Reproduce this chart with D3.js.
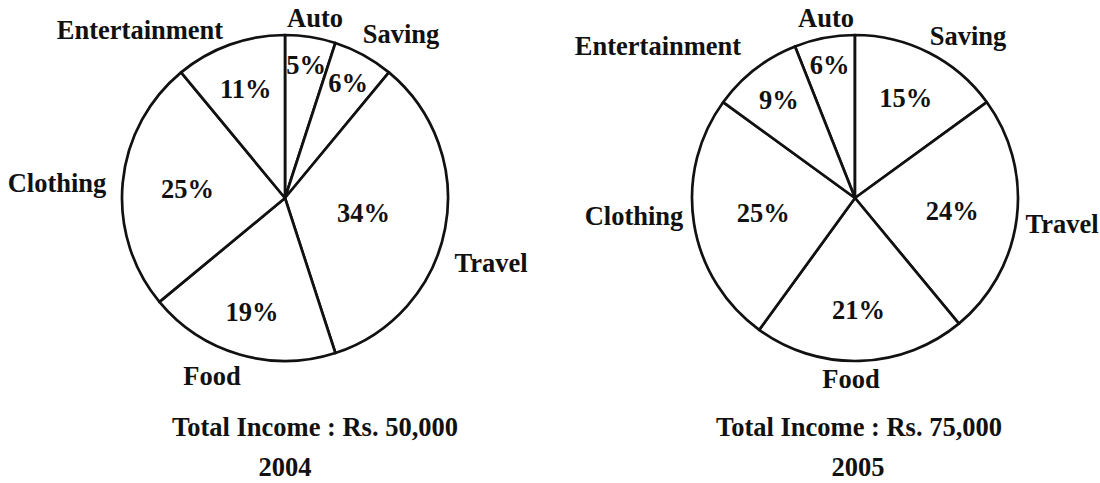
<!DOCTYPE html>
<html>
<head>
<meta charset="utf-8">
<script src="https://cdn.jsdelivr.net/npm/d3@7"></script>
<style>
  body { margin: 0; background: #fff; }
  svg text { font-family: "Liberation Serif", "Times New Roman", serif; font-weight: bold; fill: #111; }
</style>
</head>
<body>
<div id="chart"></div>
<script>
// DATA
const categories = ["Auto", "Saving", "Travel", "Food", "Clothing", "Entertainment"]
const share2004 = [5, 6, 34, 19, 25, 11]
const share2005 = [6, 15, 24, 21, 25, 9]
const incomeLabels = ["Total Income : Rs. 50,000", "Total Income : Rs. 75,000"]
const yearLabels = ["2004", "2005"]

const width = 1100, height = 483
const fontSize = 26.5

// LAYOUT (per pie: centre, label radius for %, outside label offsets)
const layout = [
  { cx: 285, cy: 198, startPct: 0,
    pctRadius: [135, 131, 80, 118, 98, 116],
    nameOffset: [[30, -171], [116, -155], [206, 74], [-73, 187], [-228, -6], [-145, -159]],
    incomeX: 315, yearX: 285 },
  { cx: 855, cy: 198, startPct: -6,
    pctRadius: [136, 112, 98, 112, 93, 124],
    nameOffset: [[-29, -171], [113, -153], [207, 35], [-4, 190], [-221, 27], [-197, -143]],
    incomeX: 859, yearX: 858 }
]

const radius = 163

const svg = d3.select("#chart")
  .append("svg")
  .attr("width", width)
  .attr("height", height)

const arc = d3.arc().innerRadius(0).outerRadius(radius)

const allShares = [share2004, share2005]

allShares.forEach((shares, i) => {
  const L = layout[i]
  const data = categories.map((c, j) => ({ name: c, value: shares[j], idx: j }))

  const pie = d3.pie()
    .sort(null)
    .value(d => d.value)
    .startAngle(L.startPct / 100 * 2 * Math.PI)
    .endAngle(L.startPct / 100 * 2 * Math.PI + 2 * Math.PI)

  const arcs = pie(data)

  const g = svg.append("g")
    .attr("transform", `translate(${L.cx}, ${L.cy})`)

  // DRAW SLICES
  g.selectAll("path")
    .data(arcs)
    .join("path")
    .attr("d", arc)
    .attr("fill", "white")
    .attr("stroke", "#111")
    .attr("stroke-width", 2.7)
    .attr("stroke-linejoin", "round")

  // PERCENT LABELS
  g.selectAll("text.pct")
    .data(arcs)
    .join("text")
    .attr("class", "pct")
    .attr("transform", d => {
      const a = (d.startAngle + d.endAngle) / 2
      const r = L.pctRadius[d.data.idx]
      return `translate(${Math.sin(a) * r}, ${-Math.cos(a) * r})`
    })
    .attr("text-anchor", "middle")
    .attr("dy", "0.35em")
    .attr("font-size", fontSize)
    .text(d => d.data.value + "%")

  // CATEGORY NAMES
  g.selectAll("text.name")
    .data(arcs)
    .join("text")
    .attr("class", "name")
    .attr("x", d => L.nameOffset[d.data.idx][0])
    .attr("y", d => L.nameOffset[d.data.idx][1])
    .attr("text-anchor", "middle")
    .attr("font-size", fontSize)
    .text(d => d.data.name)

  // INCOME + YEAR
  svg.append("text")
    .attr("x", L.incomeX)
    .attr("y", 436)
    .attr("text-anchor", "middle")
    .attr("font-size", fontSize)
    .text(incomeLabels[i])

  svg.append("text")
    .attr("x", L.yearX)
    .attr("y", 476)
    .attr("text-anchor", "middle")
    .attr("font-size", fontSize)
    .text(yearLabels[i])
})
</script>
</body>
</html>
